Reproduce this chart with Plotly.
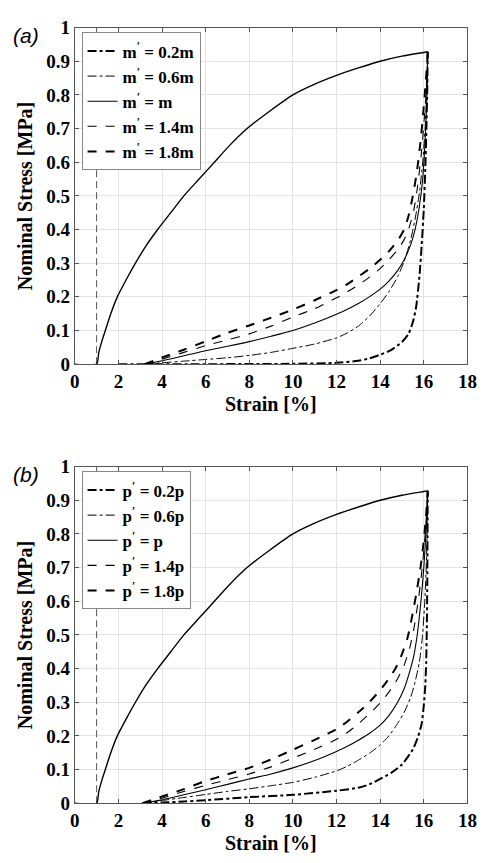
import plotly.graph_objects as go

# ---------------- data ----------------
# common loading curve (strain %, stress MPa)
load_x = [0, 1.0, 1.1, 1.25, 1.4, 1.65, 1.95, 2.35, 2.78, 3.25, 3.8, 4.4, 5.0, 5.7, 6.4, 7.1, 7.9,
          8.9, 10.0, 11.0, 12.0, 13.0, 14.0, 15.0, 16.0, 16.18]
load_y = [0, 0, 0.035, 0.07, 0.1, 0.15, 0.2, 0.25, 0.3, 0.35, 0.4, 0.45, 0.5, 0.55, 0.6, 0.65, 0.7,
          0.75, 0.8, 0.832, 0.858, 0.88, 0.9, 0.915, 0.926, 0.928]

# reference vertical line
ref_x = [1.0, 1.0]
ref_y = [0.0, 1.0]

# panel (a): unloading, m' variations
a_labels = ["m<sup>′</sup> = 0.2m", "m<sup>′</sup> = 0.6m", "m<sup>′</sup> = m",
            "m<sup>′</sup> = 1.4m", "m<sup>′</sup> = 1.8m"]
a_x = [
    [2.0, 3.2, 6.0, 10.0, 12.0, 13.0, 13.5, 14.0, 14.5, 15.0, 15.3, 15.5, 15.65, 15.8, 15.9, 16.0, 16.07, 16.12, 16.16, 16.18],
    [3.2, 4, 5, 6, 7, 8, 9, 10, 11, 12, 12.5, 13, 13.5, 14, 14.4, 14.8, 15.1, 15.4, 15.6, 15.8, 15.95, 16.06, 16.13, 16.17, 16.18],
    [3.2, 4, 5, 6, 7, 8, 9, 10, 11, 12, 12.5, 13, 13.5, 14, 14.4, 14.8, 15.1, 15.4, 15.6, 15.8, 15.95, 16.05, 16.12, 16.16, 16.18],
    [3.2, 4, 5, 6, 7, 8, 9, 10, 11, 12, 12.5, 13, 13.5, 14, 14.4, 14.8, 15.1, 15.35, 15.55, 15.72, 15.88, 16.0, 16.1, 16.16, 16.18],
    [3.2, 4, 5, 6, 7, 8, 9, 10, 11, 12, 12.5, 13, 13.5, 14, 14.4, 14.8, 15.1, 15.3, 15.5, 15.68, 15.85, 15.98, 16.08, 16.15, 16.18],
]
a_y = [
    [0, 0, 0.0, 0.001, 0.004, 0.01, 0.017, 0.028, 0.042, 0.066, 0.09, 0.125, 0.17, 0.26, 0.35, 0.46, 0.58, 0.7, 0.82, 0.928],
    [0, 0.004, 0.009, 0.014, 0.019, 0.026, 0.035, 0.047, 0.06, 0.078, 0.093, 0.113, 0.142, 0.18, 0.215, 0.26, 0.305, 0.37, 0.43, 0.51, 0.6, 0.7, 0.8, 0.88, 0.928],
    [0, 0.01, 0.025, 0.04, 0.053, 0.067, 0.083, 0.1, 0.122, 0.148, 0.163, 0.18, 0.2, 0.223, 0.247, 0.278, 0.31, 0.355, 0.4, 0.47, 0.55, 0.65, 0.75, 0.84, 0.928],
    [0, 0.015, 0.035, 0.055, 0.072, 0.09, 0.113, 0.14, 0.165, 0.197, 0.215, 0.235, 0.258, 0.284, 0.31, 0.34, 0.37, 0.41, 0.46, 0.53, 0.62, 0.71, 0.8, 0.88, 0.928],
    [0, 0.02, 0.043, 0.068, 0.093, 0.115, 0.138, 0.162, 0.19, 0.22, 0.238, 0.26, 0.283, 0.31, 0.335, 0.367, 0.4, 0.44, 0.5, 0.57, 0.66, 0.75, 0.83, 0.89, 0.928],
]

# panel (b): unloading, p' variations
b_labels = ["p<sup>′</sup> = 0.2p", "p<sup>′</sup> = 0.6p", "p<sup>′</sup> = p",
            "p<sup>′</sup> = 1.4p", "p<sup>′</sup> = 1.8p"]
b_x = [
    [3.1, 4, 5, 6, 8, 10, 12, 13, 13.5, 14, 14.5, 15, 15.5, 15.75, 15.9, 16.0, 16.07, 16.11, 16.14, 16.16, 16.18],
    [3.1, 4, 5, 6, 7, 8, 9, 10, 11, 12, 12.5, 13, 13.5, 14, 14.4, 14.8, 15.1, 15.4, 15.6, 15.8, 15.93, 16.03, 16.1, 16.15, 16.18],
    [3.1, 4, 5, 6, 7, 8, 9, 10, 11, 12, 12.5, 13, 13.5, 14, 14.4, 14.8, 15.1, 15.35, 15.55, 15.72, 15.87, 15.99, 16.08, 16.14, 16.18],
    [3.1, 4, 5, 6, 7, 8, 9, 10, 11, 12, 12.5, 13, 13.5, 14, 14.4, 14.8, 15.1, 15.35, 15.55, 15.72, 15.88, 16.0, 16.1, 16.15, 16.18],
    [3.1, 4, 5, 6, 7, 8, 9, 10, 11, 12, 12.5, 13, 13.5, 14, 14.4, 14.7, 15.0, 15.25, 15.45, 15.65, 15.85, 16.0, 16.1, 16.18],
]
b_y = [
    [0, 0.002, 0.005, 0.009, 0.018, 0.025, 0.037, 0.046, 0.056, 0.072, 0.09, 0.115, 0.16, 0.2, 0.235, 0.29, 0.35, 0.42, 0.52, 0.65, 0.928],
    [0, 0.008, 0.017, 0.026, 0.035, 0.043, 0.052, 0.062, 0.077, 0.096, 0.11, 0.128, 0.148, 0.173, 0.2, 0.237, 0.27, 0.315, 0.36, 0.42, 0.49, 0.58, 0.68, 0.79, 0.928],
    [0, 0.01, 0.025, 0.04, 0.056, 0.072, 0.087, 0.105, 0.127, 0.154, 0.169, 0.187, 0.207, 0.232, 0.26, 0.3, 0.34, 0.39, 0.44, 0.51, 0.6, 0.69, 0.78, 0.86, 0.928],
    [0, 0.015, 0.035, 0.053, 0.07, 0.087, 0.108, 0.134, 0.16, 0.19, 0.21, 0.236, 0.265, 0.298, 0.33, 0.37, 0.41, 0.46, 0.52, 0.59, 0.67, 0.75, 0.83, 0.89, 0.928],
    [0, 0.02, 0.042, 0.066, 0.086, 0.105, 0.13, 0.159, 0.188, 0.22, 0.243, 0.27, 0.3, 0.336, 0.37, 0.4, 0.443, 0.49, 0.55, 0.62, 0.7, 0.78, 0.85, 0.928],
]

x_ticks = [0, 2, 4, 6, 8, 10, 12, 14, 16, 18]
y_ticks = [0, 0.1, 0.2, 0.3, 0.4, 0.5, 0.6, 0.7, 0.8, 0.9, 1]
y_ticktext = ["0", "0.1", "0.2", "0.3", "0.4", "0.5", "0.6", "0.7", "0.8", "0.9", "1"]

# ---------------- styles ----------------
styles = [
    dict(dash="dashdot", width=2.0),
    dict(dash="dashdot", width=1.0),
    dict(dash="solid", width=1.1),
    dict(dash="dash", width=1.1),
    dict(dash="dash", width=2.0),
]

SERIF = "Liberation Serif"
fig = go.Figure()

panels = [
    ("x", "y", "legend", a_labels, a_x, a_y),
    ("x2", "y2", "legend2", b_labels, b_x, b_y),
]
for xa, ya, lg, labels, xs, ys in panels:
    fig.add_trace(go.Scatter(x=ref_x, y=ref_y, mode="lines", xaxis=xa, yaxis=ya,
                             line=dict(color="#555555", width=1, dash="7px,4px"),
                             showlegend=False, hoverinfo="skip"))
    fig.add_trace(go.Scatter(x=load_x, y=load_y, mode="lines", xaxis=xa, yaxis=ya,
                             line=dict(color="black", width=1.4, shape="spline", smoothing=0.6),
                             showlegend=False))
    for lab, xv, yv, st in zip(labels, xs, ys, styles):
        fig.add_trace(go.Scatter(x=xv, y=yv, mode="lines", name=lab, xaxis=xa, yaxis=ya,
                                 legend=lg,
                                 line=dict(color="black", width=st["width"], dash=st["dash"],
                                           shape="spline", smoothing=0.6)))

xdom = [72 / 490, 477 / 490]
ydom_a = [(863 - 363) / 863, (863 - 18) / 863]
ydom_b = [(863 - 813) / 863, (863 - 468) / 863]

tickfont = dict(family=SERIF, size=19, color="black", weight="bold")
axis_common = dict(showline=True, linecolor="#555555", linewidth=1, mirror="ticks",
                   ticks="inside", ticklen=4, tickcolor="#555555",
                   showgrid=True, gridcolor="#e3e3e3", gridwidth=1,
                   zeroline=False, tickfont=tickfont)

legfont = dict(family=SERIF, size=17, color="black", weight="bold")
fig.update_layout(
    width=490, height=863, autosize=False,
    margin=dict(l=0, r=0, t=0, b=0),
    paper_bgcolor="white", plot_bgcolor="white",
    xaxis=dict(domain=xdom, anchor="y", range=[0, 18], tickvals=x_ticks, **axis_common),
    yaxis=dict(domain=ydom_a, anchor="x", range=[0, 1], tickvals=y_ticks, ticktext=y_ticktext, **axis_common),
    xaxis2=dict(domain=xdom, anchor="y2", range=[0, 18], tickvals=x_ticks, **axis_common),
    yaxis2=dict(domain=ydom_b, anchor="x2", range=[0, 1], tickvals=y_ticks, ticktext=y_ticktext, **axis_common),
    legend=dict(x=79 / 490, y=(863 - 23) / 863, xanchor="left", yanchor="top",
                bgcolor="white", bordercolor="#888888", borderwidth=1,
                font=legfont, tracegroupgap=0, itemwidth=30),
    legend2=dict(x=79 / 490, y=(863 - 473) / 863, xanchor="left", yanchor="top",
                 bgcolor="white", bordercolor="#888888", borderwidth=1,
                 font=legfont, tracegroupgap=0, itemwidth=30),
    showlegend=True,
)

ann_font = dict(family=SERIF, size=20, color="black", weight="bold")
for ytop, ybot, lab in [(18, 363, "(a)"), (468, 813, "(b)")]:
    fig.add_annotation(text="Strain [%]", xref="paper", yref="paper",
                       x=(72 + 477) / 2 / 490, y=(863 - (ybot + 41)) / 863,
                       xanchor="center", yanchor="middle", showarrow=False, font=ann_font)
    fig.add_annotation(text="Nominal Stress [MPa]", xref="paper", yref="paper",
                       x=21 / 490, y=(863 - (ytop + ybot) / 2) / 863, textangle=-90,
                       xanchor="center", yanchor="middle", showarrow=False, font=ann_font)
    fig.add_annotation(text="<i>" + lab + "</i>", xref="paper", yref="paper",
                       x=22 / 490, y=(863 - (ytop + 8)) / 863,
                       xanchor="center", yanchor="middle", showarrow=False,
                       font=dict(family="Liberation Sans", size=21, color="black"))

fig.write_html("out.html")
